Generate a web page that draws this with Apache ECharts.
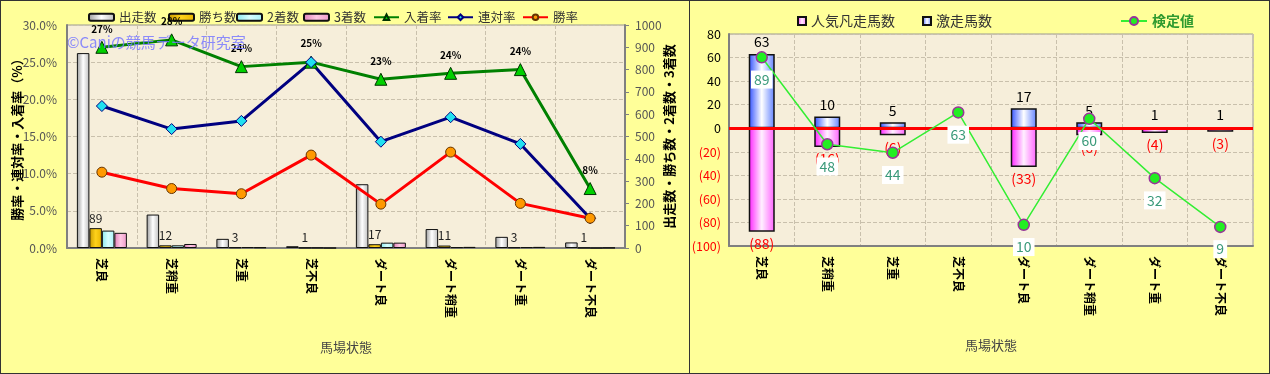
<!DOCTYPE html>
<html><head><meta charset="utf-8">
<script src="https://cdn.jsdelivr.net/npm/echarts@6/dist/echarts.min.js"></script>
<style>
html,body{margin:0;padding:0;background:#fff;width:1270px;height:374px;overflow:hidden;}
.panel{position:absolute;top:0;height:374px;box-sizing:border-box;border:1px solid #333;background:#FFFF99;}
#p1{left:0;width:690px;}
#p2{left:689px;width:581px;}
.chart{width:100%;height:100%;}
</style></head><body>
<div class="panel" id="p1"><div class="chart" id="c1"></div></div>
<div class="panel" id="p2"><div class="chart" id="c2"></div></div>
<script>
// ---- data ----
const categories = ['芝良','芝稍重','芝重','芝不良','ダート良','ダート稍重','ダート重','ダート不良'];
const runs    = [874,150,41,8,286,85,50,25];
const wins    = [89,12,3,1,17,11,3,1];
const seconds = [78,12,4,1,24,4,4,0];
const thirds  = [68,18,3,0,24,5,5,1];
const placeRate    = [27.0,28.0,24.4,25.0,22.7,23.5,24.0,8.0];
const quinellaRate = [19.1,16.0,17.1,25.0,14.3,17.6,14.0,4.0];
const winRate      = [10.2,8.0,7.3,12.5,5.9,12.9,6.0,4.0];
const rateAxis  = [0,30,5];
const countAxis = [0,1000,100];

const surgeCount = [63,10,5,0,17,5,1,1];
const flopCount  = [-88,-16,-6,0,-33,-6,-4,-3];
const testValue  = [89,48,44,63,10,60,32,9];
const diffAxis = [-100,80,20];
const testAxis = [0,100];

const FONT = '"Noto Sans CJK JP", "Noto Sans", sans-serif';
function hgrad(a,b,c){return new echarts.graphic.LinearGradient(0,0,1,0,[{offset:0,color:a},{offset:0.5,color:b},{offset:1,color:c}]);}
const PLOT_BG = '#F6EEDA';
const GRIDLINE = {color:'#C9C0AC',type:'dashed',width:1};

// ---- left chart ----
const c1 = echarts.init(document.getElementById('c1'));
function barSeries(name,data,fill,extra){
  return Object.assign({name:name,type:'bar',yAxisIndex:1,data:data,barWidth:12.5,barGap:'0%',z:2,
    itemStyle:{color:fill,borderColor:'#111',borderWidth:1}},extra||{});
}
function leg(name,left,icon){
  const it = icon ? {name:name,icon:icon} : name;
  return {left:left,top:5,itemWidth:25,itemHeight:7,itemGap:4,data:[it],
    textStyle:{fontSize:12.5,color:'#333',fontFamily:FONT}};
}
c1.setOption({
  backgroundColor:'#FFFF99',
  textStyle:{fontFamily:FONT},
  animation:false,
  grid:{left:66,top:24,right:64,bottom:125,outerBoundsMode:'none',containLabel:false,show:true,backgroundColor:PLOT_BG,borderColor:'#999',borderWidth:1},
  legend:[leg('出走数',82,'roundRect'),leg('勝ち数',162,'roundRect'),leg('2着数',230,'roundRect'),leg('3着数',297,'roundRect'),
          leg('入着率',367),leg('連対率',441),leg('勝率',516)],
  graphic:[{type:'text',left:66,top:34,z:100,style:{text:'©Caniの競馬データ研究室',fill:'rgba(120,120,255,0.85)',font:'15px '+FONT}}],
  xAxis:{type:'category',data:categories,
    axisLine:{lineStyle:{color:'#808080',width:2}},axisTick:{show:false},
    splitLine:{show:true,lineStyle:GRIDLINE},
    axisLabel:{rotate:-90,fontSize:12,fontWeight:'bold',color:'#000',margin:10,fontFamily:FONT},
    name:'馬場状態',nameLocation:'middle',nameGap:93,nameMoveOverlap:false,nameTextStyle:{fontSize:13,color:'#444',fontFamily:FONT}},
  yAxis:[
    {type:'value',min:rateAxis[0],max:rateAxis[1],interval:rateAxis[2],position:'left',
     axisLabel:{formatter:v=>v.toFixed(1)+'%',color:'#555',fontSize:12,margin:10},
     axisLine:{show:true,lineStyle:{color:'#808080',width:2}},axisTick:{show:false},
     splitLine:{lineStyle:GRIDLINE},
     name:'勝率・連対率・入着率（%）',nameLocation:'middle',nameRotate:90,nameGap:43,nameMoveOverlap:false,
     nameTextStyle:{fontSize:13,fontWeight:'bold',color:'#000',fontFamily:FONT}},
    {type:'value',min:countAxis[0],max:countAxis[1],interval:countAxis[2],position:'right',
     axisLabel:{color:'#555',fontSize:12,margin:10,formatter:v=>String(v)},
     axisLine:{show:true,lineStyle:{color:'#808080',width:2}},axisTick:{show:true,length:4,lineStyle:{color:'#808080'}},
     splitLine:{show:false},
     name:'出走数・勝ち数・2着数・3着数',nameLocation:'middle',nameRotate:90,nameGap:38,nameMoveOverlap:false,
     nameTextStyle:{fontSize:13,fontWeight:'bold',color:'#000',fontFamily:FONT}}
  ],
  series:[
    barSeries('出走数',runs,hgrad('#9A9A9A','#FFFFFF','#BDBDBD')),
    barSeries('勝ち数',wins,hgrad('#C89A00','#FFD21A','#E8B400'),
      {label:{show:true,position:'top',distance:4,color:'#222',fontSize:12}}),
    barSeries('2着数',seconds,hgrad('#88E8EE','#D8FFFF','#A8F4F8')),
    barSeries('3着数',thirds,hgrad('#E080B8','#FFC8E4','#EE99C8')),
    {name:'入着率',type:'line',yAxisIndex:0,data:placeRate,z:5,
     lineStyle:{color:'#008000',width:3},symbol:'triangle',symbolSize:12,
     itemStyle:{color:'#00D000',borderColor:'#003300',borderWidth:1},
     label:{show:true,position:'top',distance:7,formatter:p=>Math.round(p.value)+'%',fontSize:10,fontWeight:'bold',color:'#000'}},
    {name:'連対率',type:'line',yAxisIndex:0,data:quinellaRate,z:5,
     lineStyle:{color:'#000080',width:3},symbol:'diamond',symbolSize:11,
     itemStyle:{color:'#22E0F0',borderColor:'#000080',borderWidth:1}},
    {name:'勝率',type:'line',yAxisIndex:0,data:winRate,z:5,
     lineStyle:{color:'#FF0000',width:3},symbol:'circle',symbolSize:10,
     itemStyle:{color:'#FF9900',borderColor:'#663300',borderWidth:1}}
  ]
});

// ---- right chart ----
const c2 = echarts.init(document.getElementById('c2'));
c2.setOption({
  backgroundColor:'#FFFF99',
  textStyle:{fontFamily:FONT},
  animation:false,
  grid:{left:39,top:33,right:16,bottom:127,outerBoundsMode:'none',containLabel:false,show:true,backgroundColor:PLOT_BG,borderColor:'#999',borderWidth:1},
  legend:[
    {left:102,top:8,itemWidth:8,itemHeight:8,data:[{name:'人気凡走馬数',icon:'rect'}],
     textStyle:{fontSize:14,color:'#333',fontFamily:FONT}},
    {left:227,top:8,itemWidth:8,itemHeight:8,data:[{name:'激走馬数',icon:'rect'}],
     textStyle:{fontSize:14,color:'#333',fontFamily:FONT}},
    {left:425,top:8,itemWidth:26,itemHeight:10,data:['検定値'],
     textStyle:{fontSize:14,color:'#2E9A2E',fontWeight:'bold',fontFamily:FONT}}
  ],
  xAxis:{type:'category',data:categories,
    axisLine:{onZero:false,lineStyle:{color:'#808080',width:2}},axisTick:{show:false},
    splitLine:{show:true,lineStyle:GRIDLINE},
    axisLabel:{rotate:-90,fontSize:12,fontWeight:'bold',color:'#000',margin:10,fontFamily:FONT},
    name:'馬場状態',nameLocation:'middle',nameGap:93,nameMoveOverlap:false,nameTextStyle:{fontSize:13,color:'#444',fontFamily:FONT}},
  yAxis:[
    {type:'value',min:diffAxis[0],max:diffAxis[1],interval:diffAxis[2],
     axisLine:{show:true,lineStyle:{color:'#808080',width:2}},axisTick:{show:false},
     splitLine:{lineStyle:GRIDLINE},
     axisLabel:{margin:8,formatter:v=>v<0?'{r|('+(-v)+')}':'{b|'+v+'}',
       rich:{r:{color:'#FF0000',fontSize:12.5,fontFamily:FONT},b:{color:'#000',fontSize:12.5,fontFamily:FONT}}}},
    {type:'value',min:testAxis[0],max:testAxis[1],show:false,splitLine:{show:false}}
  ],
  series:[
    {name:'激走馬数',type:'bar',data:surgeCount,barWidth:26,barGap:'-100%',z:2,
     itemStyle:{color:hgrad('#3050FF','#FFFFFF','#6080FF'),borderColor:'#111',borderWidth:1.5},
     label:{show:true,position:'top',distance:5,color:'#000',fontSize:14,formatter:p=>p.value?String(p.value):''}},
    {name:'人気凡走馬数',type:'bar',data:flopCount,barWidth:26,barGap:'-100%',z:2,
     itemStyle:{color:hgrad('#FF20FF','#FFF0FF','#FF60FF'),borderColor:'#111',borderWidth:1.5},
     label:{show:true,position:'bottom',distance:5,color:'#FF0000',fontSize:14,formatter:p=>p.value?'('+(-p.value)+')':''},
     markLine:{silent:true,symbol:'none',label:{show:false},data:[{yAxis:0}],
       lineStyle:{color:'#FF0000',width:3,type:'solid'}}},
    {name:'検定値',type:'line',yAxisIndex:1,data:testValue,z:6,
     lineStyle:{color:'#33EE33',width:1.5},symbol:'circle',symbolSize:11,
     itemStyle:{color:'#22EE22',borderColor:'#993399',borderWidth:1.5},
     label:{show:true,position:'bottom',distance:7,color:'#3A9A7A',fontSize:14,backgroundColor:'#FFFFFF',padding:[2,3]}}
  ]
});
</script>
</body></html>
